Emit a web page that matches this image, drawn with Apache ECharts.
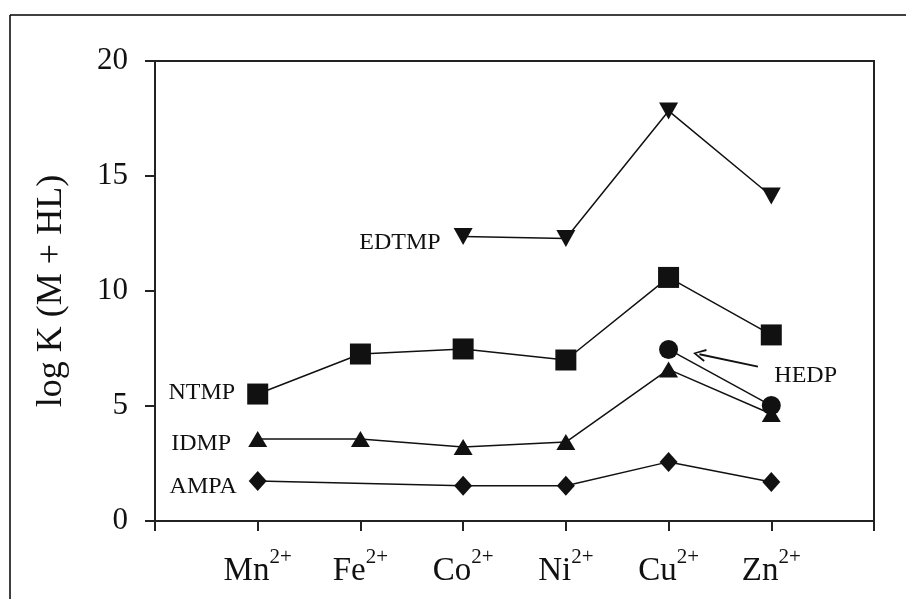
<!DOCTYPE html>
<html>
<head>
<meta charset="utf-8">
<script src="https://cdn.jsdelivr.net/npm/echarts@6/dist/echarts.min.js"></script>
<style>
html,body{margin:0;padding:0;background:#fff;}
#c{width:906px;height:599px;}
</style>
</head>
<body>
<div id="c"></div>
<script>
const categories = ['Mn', 'Fe', 'Co', 'Ni', 'Cu', 'Zn'];
const chargeLabel = '2+';
const EDTMP = [null, null, 12.37, 12.28, 17.83, 14.13];
const NTMP = [5.52, 7.26, 7.48, 7.00, 10.59, 8.09];
const HEDP = [null, null, null, null, 7.46, 5.02];
const IDMP = [3.57, 3.57, 3.22, 3.43, 6.59, 4.65];
const AMPA = [1.74, null, 1.53, 1.53, 2.57, 1.70];
const yTicks = [0, 5, 10, 15, 20];
const yTitle = 'log K (M + HL)';
const hedpText = 'HEDP';
const hedpArrow = [[5.87, 6.71], [5.30, 7.25]];
const hedpTextAt = [6.03, 6.33];

const SERIF = '"Liberation Serif", "Times New Roman", serif';
const INK = '#111';

function pts(arr, labelOpt) {
  const out = [];
  arr.forEach((v, i) => {
    if (v === null) return;
    const d = { value: [i + 1, v] };
    if (out.length === 0 && labelOpt) d.label = labelOpt;
    out.push(d);
  });
  return out;
}
function nameLabel(dist, dy) {
  return {
    show: true, position: 'left', distance: dist, offset: [0, dy],
    formatter: '{a}', fontSize: 24, fontFamily: SERIF, color: INK
  };
}
const lineStyle = { color: INK, width: 1.5 };
const itemStyle = { color: INK };

const chart = echarts.init(document.getElementById('c'));
chart.setOption({
  animation: false,
  backgroundColor: '#fff',
  grid: { left: 155, right: 32, top: 61, bottom: 78, show: true, borderColor: '#222', borderWidth: 2, backgroundColor: 'transparent' },
  xAxis: {
    type: 'value', min: 0, max: categories.length + 1, interval: 1,
    axisLine: { lineStyle: { color: '#222', width: 2 } },
    axisTick: { length: 10, lineStyle: { color: '#222', width: 2 } },
    splitLine: { show: false },
    axisLabel: {
      margin: 26,
      formatter: v => (v >= 1 && v <= categories.length) ? '{b|' + categories[v - 1] + '}{s|' + chargeLabel + '}' : '',
      rich: {
        b: { fontSize: 33, fontFamily: SERIF, color: INK, lineHeight: 41, verticalAlign: 'bottom' },
        s: { fontSize: 21, fontFamily: SERIF, color: INK, lineHeight: 20, verticalAlign: 'top' }
      }
    }
  },
  yAxis: {
    type: 'value', min: yTicks[0], max: yTicks[yTicks.length - 1], interval: yTicks[1] - yTicks[0],
    name: yTitle, nameLocation: 'middle', nameGap: 85,
    nameTextStyle: { fontSize: 36, fontFamily: SERIF, color: INK },
    axisLine: { show: true, lineStyle: { color: '#222', width: 2 } },
    axisTick: { show: true, length: 10, lineStyle: { color: '#222', width: 2 } },
    splitLine: { show: false },
    axisLabel: { margin: 27, fontSize: 31, fontFamily: SERIF, color: INK }
  },
  series: [
    { name: 'EDTMP', type: 'line', data: pts(EDTMP, nameLabel(13, 6)), symbol: 'triangle', symbolRotate: 180, symbolSize: [19, 17], lineStyle, itemStyle, z: 3 },
    { name: 'NTMP', type: 'line', data: pts(NTMP, nameLabel(12, -1)), symbol: 'rect', symbolSize: 21, lineStyle, itemStyle, z: 3 },
    { name: 'HEDP', type: 'line', data: pts(HEDP, null), symbol: 'circle', symbolSize: 19, lineStyle, itemStyle, z: 4,
      markLine: {
        silent: true, animation: false,
        lineStyle: { color: INK, width: 1.8, type: 'solid' },
        label: { show: false },
        data: [[
          { coord: hedpArrow[0], symbol: 'none' },
          { coord: hedpArrow[1], symbol: 'path://M5,0 L10,12 L8.6,12.9 L5,3.2 L1.4,12.9 L0,12 Z', symbolSize: [13, 13] }
        ]]
      }
    },
    { name: 'IDMP', type: 'line', data: pts(IDMP, nameLabel(17, 5)), symbol: 'triangle', symbolSize: [19, 16], lineStyle, itemStyle, z: 3 },
    { name: 'AMPA', type: 'line', data: pts(AMPA, nameLabel(12, 6)), symbol: 'diamond', symbolSize: [18, 20], lineStyle, itemStyle, z: 3 }
  ]
});

const tp = chart.convertToPixel({ gridIndex: 0 }, hedpTextAt);
chart.setOption({
  graphic: [
    { type: 'line', shape: { x1: 10, y1: 15, x2: 906, y2: 15 }, style: { stroke: '#000', lineWidth: 1.5 } },
    { type: 'line', shape: { x1: 10, y1: 15, x2: 10, y2: 599 }, style: { stroke: '#000', lineWidth: 1.5 } },
    { type: 'text', x: tp[0], y: tp[1], style: { text: hedpText, fontSize: 24, fontFamily: SERIF, fill: INK, align: 'left', verticalAlign: 'middle' } }
  ]
});
</script>
</body>
</html>
